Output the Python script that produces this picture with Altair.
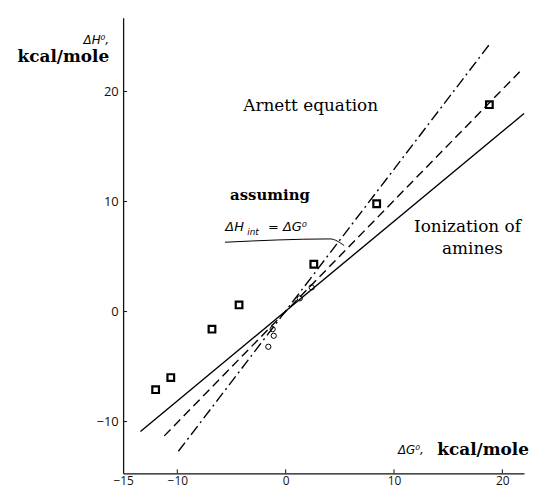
import altair as alt
import pandas as pd

# open squares (Arnett equation data)
sq_x = [-12.0, -10.6, -6.8, -4.3, 2.6, 8.4, 18.8]
sq_y = [-7.1, -6.0, -1.6, 0.6, 4.3, 9.8, 18.8]
# open circles (ionization of amines)
ci_x = [-1.6, -1.1, -1.2, 1.3, 2.4]
ci_y = [-3.2, -2.2, -1.6, 1.2, 2.2]
# straight lines (end points)
solid_x = [-13.4, 22.0]
solid_y = [-10.9, 18.0]
dash_x = [-11.2, 21.6]
dash_y = [-11.3, 21.8]
dashdot_x = [-9.9, 18.9]
dashdot_y = [-12.7, 24.4]
# leader line under the annotation
lead_x = [-5.6, 4.1, 5.4]
lead_y = [6.3, 6.6, 6.0]

x_ticks = [-15, -10, 0, 10, 20]
y_ticks = [-10, 0, 10, 20]

W, H = 404, 459
xs = alt.Scale(domain=[-15, 22], nice=False, zero=False)
ys = alt.Scale(domain=[-14.7, 26.7], nice=False, zero=False)

LABF = "Open Sans"
SERIF = "DejaVu Serif"

xax = alt.Axis(values=x_ticks, ticks=False, grid=False, domainColor="#111", domainWidth=1.3,
               labelFont=LABF, labelFontSize=12, labelColor="#111", labelPadding=2, title=None,
               labelFlush=False)
yax = alt.Axis(values=y_ticks, ticks=False, grid=False, domainColor="#111", domainWidth=1.3,
               labelFont=LABF, labelFontSize=13, labelColor="#111", labelPadding=5, title=None)

base_df = pd.DataFrame({"x": [-15, 22], "y": [-14.7, 26.7]})
base = alt.Chart(base_df).mark_point(opacity=0).encode(
    x=alt.X("x:Q", scale=xs, axis=xax), y=alt.Y("y:Q", scale=ys, axis=yax))

xt = alt.Chart(pd.DataFrame({"v": x_ticks[1:]})).mark_rule(color="#111", strokeWidth=1).encode(
    x=alt.X("v:Q", scale=xs), y=alt.value(H), y2=alt.value(H - 4))
yt = alt.Chart(pd.DataFrame({"v": y_ticks})).mark_rule(color="#111", strokeWidth=1).encode(
    y=alt.Y("v:Q", scale=ys), x=alt.value(0), x2=alt.value(4))


def line(xv, yv, dash):
    df = pd.DataFrame({"x": xv, "y": yv, "o": list(range(len(xv)))})
    kw = dict(color="black", strokeWidth=1.4)
    if dash:
        kw["strokeDash"] = dash
    return alt.Chart(df).mark_line(**kw).encode(
        x=alt.X("x:Q", scale=xs), y=alt.Y("y:Q", scale=ys), order="o:Q")


solid = line(solid_x, solid_y, None)
dashed = line(dash_x, dash_y, [9, 5])
dashdot = line(dashdot_x, dashdot_y, [11, 4, 2, 4])
lead = alt.Chart(pd.DataFrame({"x": lead_x, "y": lead_y, "o": [0, 1, 2]})).mark_line(
    color="black", strokeWidth=1, interpolate="monotone").encode(
    x=alt.X("x:Q", scale=xs), y=alt.Y("y:Q", scale=ys), order="o:Q")

squares = alt.Chart(pd.DataFrame({"x": sq_x, "y": sq_y})).mark_point(
    shape="square", filled=False, color="black", size=45, strokeWidth=2.2, opacity=1).encode(
    x=alt.X("x:Q", scale=xs), y=alt.Y("y:Q", scale=ys))
circles = alt.Chart(pd.DataFrame({"x": ci_x, "y": ci_y})).mark_point(
    shape="circle", filled=False, color="black", size=28, strokeWidth=1, opacity=1).encode(
    x=alt.X("x:Q", scale=xs), y=alt.Y("y:Q", scale=ys))


def txt(s, px, py, font=SERIF, size=16, weight="normal", style="normal", align="center"):
    return alt.Chart(pd.DataFrame({"t": [s]})).mark_text(
        font=font, fontSize=size, fontWeight=weight, fontStyle=style, align=align,
        baseline="middle", color="black").encode(
        x=alt.value(px), y=alt.value(py), text="t:N")


OX, OY = 124, 16
texts = [
    txt("Arnett equation", 313 - OX, 105 - OY, size=17),
    txt("assuming", 272 - OX, 195 - OY, size=15, weight="bold"),
    txt("ΔH", 227 - OX, 227 - OY, font="DejaVu Sans", size=13, style="italic", align="left"),
    txt("int", 249 - OX, 232 - OY, font="DejaVu Sans", size=9, style="italic", align="left"),
    txt("=  ΔG⁰", 270 - OX, 227 - OY, font="DejaVu Sans", size=13, style="italic", align="left"),
    txt("Ionization of", 471 - OX, 227 - OY, size=17),
    txt("amines", 476 - OX, 249 - OY, size=17),
    txt("ΔH⁰,", 97 - OX, 38 - OY, font="DejaVu Sans", size=12, style="italic"),
    txt("kcal/mole", 110 - OX, 56 - OY, size=17, weight="bold", align="right"),
    txt("ΔG⁰,", 427 - OX, 452 - OY, font="DejaVu Sans", size=12, style="italic", align="right"),
    txt("kcal/mole", 533 - OX, 452 - OY, size=17, weight="bold", align="right"),
]

chart = alt.layer(base, xt, yt, solid, dashed, dashdot, lead, squares, circles, *texts).properties(
    width=W, height=H, autosize="none",
    padding={"left": 116, "top": 8, "right": 5, "bottom": 17},
    background="white",
).configure_view(stroke=None)

chart.save("out.html", embed_options={"renderer": "svg", "actions": False})
